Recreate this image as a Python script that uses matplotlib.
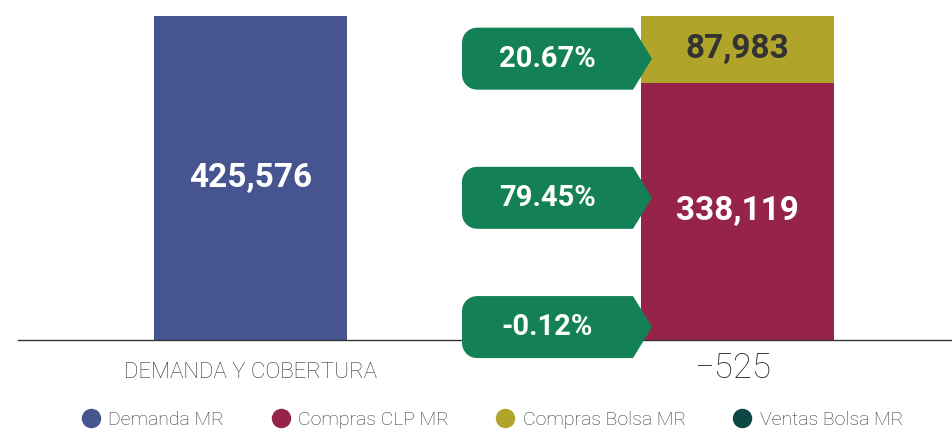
import numpy as np
import matplotlib
matplotlib.use("Agg")
import matplotlib.pyplot as plt
from matplotlib.path import Path
from matplotlib.patches import PathPatch
from matplotlib.lines import Line2D
from matplotlib.transforms import ScaledTranslation

# datos
DEMANDA = 425576
COMPRAS_CLP = 338119
COMPRAS_BOLSA = 87983
VENTAS_BOLSA = -525
SERIES = ["Demanda MR", "Compras CLP MR", "Compras Bolsa MR", "Ventas Bolsa MR"]
CATEGORIA = "DEMANDA Y COBERTURA"

COLORS = {"Demanda MR": "#46558f", "Compras CLP MR": "#96244a",
          "Compras Bolsa MR": "#b0a52a", "Ventas Bolsa MR": "#0e4545"}
GREEN = "#138055"
PCT_Y = [370000, 187000, 17000]  # posicion vertical de las etiquetas verdes

FONT = ["Roboto", "DejaVu Sans"]

fig = plt.figure(figsize=(9.52, 4.33), dpi=100)
ax = fig.add_axes([18 / 952, 93 / 433, 1 - 18 / 952, 324 / 433])
bw = 193 / 487
ax.set_xlim(-232.5 / 487, 1 + 214.5 / 487)
ax.set_ylim(0, COMPRAS_CLP + COMPRAS_BOLSA)

ax.bar(0, DEMANDA, bw, color=COLORS["Demanda MR"])
ax.bar(1, COMPRAS_CLP, bw, color=COLORS["Compras CLP MR"])
ax.bar(1, COMPRAS_BOLSA, bw, bottom=COMPRAS_CLP, color=COLORS["Compras Bolsa MR"])
ax.bar(1, VENTAS_BOLSA, bw, color=COLORS["Ventas Bolsa MR"])

for s in ("top", "left", "right"):
    ax.spines[s].set_visible(False)
ax.spines["bottom"].set_color("#333333")
ax.spines["bottom"].set_linewidth(1.0)
ax.set_xticks([]); ax.set_yticks([])

# etiquetas de valor
ax.text(0, DEMANDA / 2, f"{DEMANDA:,}", ha="center", va="center", color="white",
        fontsize=24, fontweight="bold", family=FONT)
ax.text(1, COMPRAS_CLP / 2, f"{COMPRAS_CLP:,}", ha="center", va="center", color="white",
        fontsize=24, fontweight="bold", family=FONT)
ax.text(1, COMPRAS_CLP + COMPRAS_BOLSA / 2, f"{COMPRAS_BOLSA:,}", ha="center", va="center",
        color="#333333", fontsize=24, fontweight="bold", family=FONT)
ax.text(0.99, -0.088, f"{VENTAS_BOLSA:,}".replace("-", "\u2212"), transform=ax.get_xaxis_transform(),
        ha="center", va="center", color="#333333", fontsize=25, family=FONT, fontweight="light")
ax.text(0, -0.1, CATEGORIA, transform=ax.get_xaxis_transform(), ha="center", va="center",
        color="#333333", fontsize=16, family=FONT, fontweight="light")

# etiquetas de porcentaje (flecha verde)
def tag_path():
    r = 15
    L, R, T, B, tip = -190, -19, 31, -31, 0
    pts = [(R, T), (tip, 0), (R, B)]
    a = np.linspace(-np.pi / 2, -np.pi, 8)
    pts += [(L + r + r * np.cos(t), B + r + r * np.sin(t)) for t in a]
    a = np.linspace(np.pi, np.pi / 2, 8)
    pts += [(L + r + r * np.cos(t), T - r + r * np.sin(t)) for t in a]
    pts.append((R, T))
    pts = np.array(pts) / 100.0
    codes = [Path.MOVETO] + [Path.LINETO] * (len(pts) - 2) + [Path.CLOSEPOLY]
    return Path(pts, codes)

pcts = [COMPRAS_BOLSA / DEMANDA * 100, COMPRAS_CLP / DEMANDA * 100, VENTAS_BOLSA / DEMANDA * 100]
x_left = 1 - bw / 2
for p, y in zip(pcts, PCT_Y):
    tr = fig.dpi_scale_trans + ScaledTranslation(x_left + 11 / 487, y, ax.transData)
    patch = PathPatch(tag_path(), facecolor=GREEN, edgecolor="none", transform=tr,
                      clip_on=False, zorder=5)
    ax.add_patch(patch)
    ax.text(-1.045, 0.0, f"{p:.2f}%", transform=tr, ha="center", va="center",
            color="white", fontsize=21, fontweight="bold", family=FONT, zorder=6)

# leyenda
handles = [Line2D([], [], marker="o", ls="none", markersize=13, color=COLORS[s]) for s in SERIES]
fig.legend(handles, SERIES, loc="center", bbox_to_anchor=(0.517, 0.03), ncol=4, frameon=False,
           prop={"family": FONT, "size": 14, "weight": "light"}, labelcolor="#333333",
           handletextpad=0.4, columnspacing=2.4, handlelength=1.0)

fig.savefig("out.png", dpi=100)
